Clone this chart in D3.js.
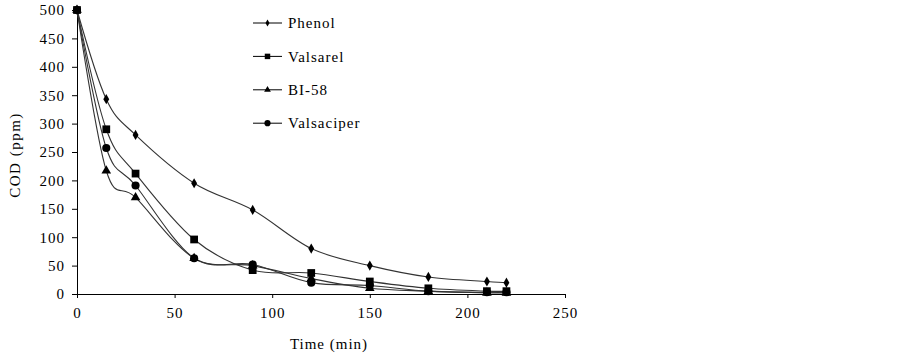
<!DOCTYPE html>
<html>
<head>
<meta charset="utf-8">
<script src="https://cdn.jsdelivr.net/npm/d3@7"></script>
<style>
  body { margin: 0; background: #fff; }
  svg text { font-family: "Liberation Serif", "Times New Roman", serif; fill: #000; letter-spacing: 1px; }
</style>
</head>
<body>
<svg id="chart" width="902" height="354"></svg>
<script>
// time points (min)
const times = [0, 15, 30, 60, 90, 120, 150, 180, 210, 220];
// COD values (ppm)
const phenol     = [500, 343, 280, 195, 148, 80, 50, 30, 22, 20];
const valsarel   = [500, 290, 212, 96, 42, 37, 22, 10, 5, 5];
const bi58       = [500, 217, 170, 63, 50, 27, 10, 5, 2, 2];
const valsaciper = [500, 257, 191, 63, 52, 20, 15, 5, 3, 3];

const seriesNames = ["Phenol", "Valsarel", "BI-58", "Valsaciper"];
const seriesVals = [phenol, valsarel, bi58, valsaciper];
const xTicks = [0, 50, 100, 150, 200, 250];
const yTicks = [0, 50, 100, 150, 200, 250, 300, 350, 400, 450, 500];

const svg = d3.select("#chart");
const mLeft = 77, mRight = 565, mTop = 10, mBottom = 294;

const x = d3.scaleLinear().domain([0, 250]).range([mLeft, mRight]);
const y = d3.scaleLinear().domain([0, 500]).range([mBottom, mTop]);

// axes
const xAxis = svg.append("g")
    .attr("transform", `translate(0,${mBottom})`)
    .call(d3.axisBottom(x).tickValues(xTicks).tickSize(4).tickSizeOuter(0).tickPadding(9));
const yAxis = svg.append("g")
    .attr("transform", `translate(${mLeft},0)`)
    .call(d3.axisLeft(y).tickValues(yTicks).tickSize(5).tickSizeOuter(0).tickPadding(7));
[xAxis, yAxis].forEach(g => {
    g.select(".domain").attr("stroke", "#000");
    g.selectAll(".tick line").attr("stroke", "#000");
    g.selectAll(".tick text").style("font-size", "15px").attr("font-family", null);
});

// axis titles
svg.append("text")
    .attr("x", 329).attr("y", 349)
    .attr("text-anchor", "middle")
    .style("font-size", "15px")
    .text("Time (min)");
svg.append("text")
    .attr("transform", "translate(20,155) rotate(-90)")
    .attr("text-anchor", "middle")
    .style("font-size", "15px")
    .style("letter-spacing", "1.5px")
    .text("COD (ppm)");

// marker shapes
const symbols = [d3.symbolDiamond, d3.symbolSquare, d3.symbolTriangle, d3.symbolCircle];
const sizes = [30, 60, 40, 52];
const legSizes = [14, 30, 20, 30];

const line = d3.line()
    .x((d, i) => x(times[i]))
    .y(d => y(d))
    .curve(d3.curveCardinal.tension(0));

seriesVals.forEach((vals, s) => {
    svg.append("path")
        .attr("d", line(vals))
        .attr("fill", "none")
        .attr("stroke", "#333")
        .attr("stroke-width", 1.1);
});
seriesVals.forEach((vals, s) => {
    svg.append("g").selectAll("path")
        .data(vals)
        .join("path")
        .attr("transform", (d, i) => `translate(${x(times[i])},${y(d)})`)
        .attr("d", d3.symbol().type(symbols[s]).size(sizes[s]))
        .attr("fill", "#000");
});

// legend
const leg = svg.append("g").attr("transform", "translate(253,23)");
seriesNames.forEach((name, s) => {
    const row = leg.append("g").attr("transform", `translate(0,${s * 33.4})`);
    row.append("line")
        .attr("x1", 0).attr("x2", 29)
        .attr("stroke", "#000").attr("stroke-width", 1);
    row.append("path")
        .attr("transform", "translate(14.5,0)")
        .attr("d", d3.symbol().type(symbols[s]).size(legSizes[s]))
        .attr("fill", "#000");
    row.append("text")
        .attr("x", 35).attr("y", 0)
        .attr("dy", "0.35em")
        .style("font-size", "15px")
        .text(name);
});
</script>
</body>
</html>
